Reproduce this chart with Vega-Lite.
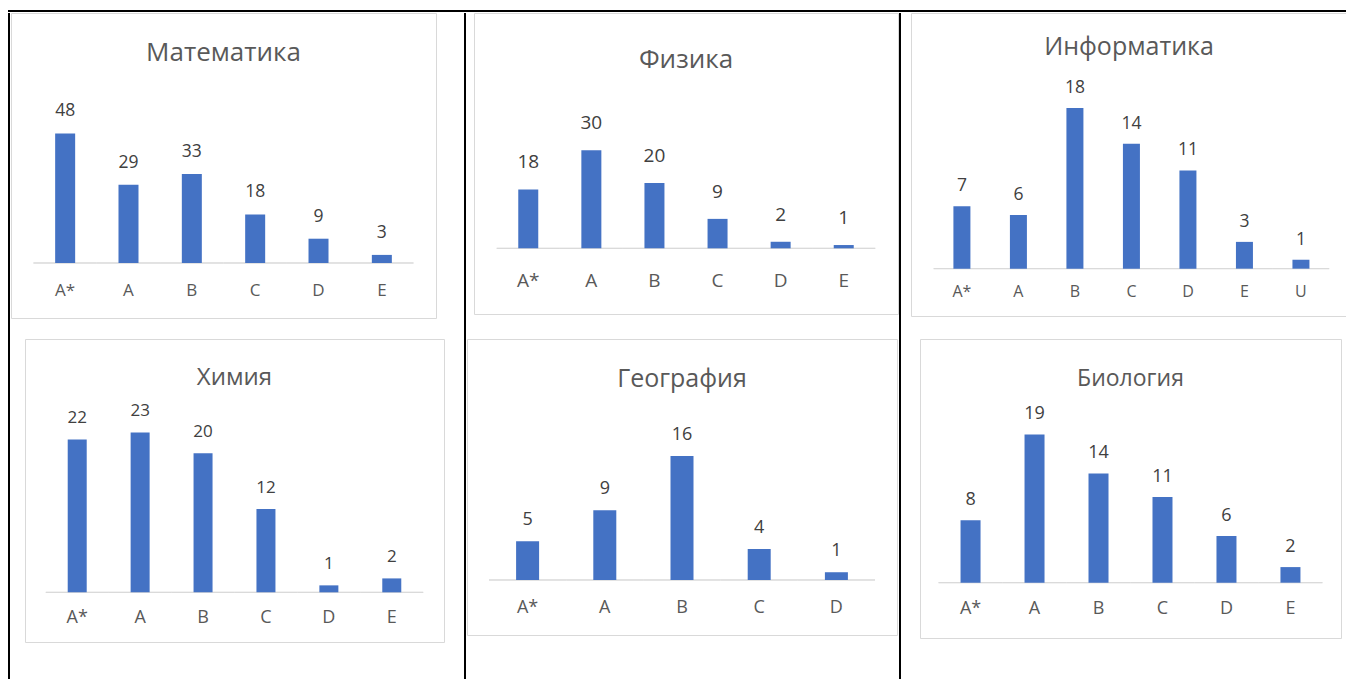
{
  "$schema": "https://vega.github.io/schema/vega-lite/v6.json",
  "padding": {"left": 8, "top": 10, "right": 0, "bottom": 0},
  "background": "white",
  "datasets": {
    "math": [{"grade": "A*", "count": 48}, {"grade": "A", "count": 29}, {"grade": "B", "count": 33}, {"grade": "C", "count": 18}, {"grade": "D", "count": 9}, {"grade": "E", "count": 3}],
    "phys": [{"grade": "A*", "count": 18}, {"grade": "A", "count": 30}, {"grade": "B", "count": 20}, {"grade": "C", "count": 9}, {"grade": "D", "count": 2}, {"grade": "E", "count": 1}],
    "inf": [{"grade": "A*", "count": 7}, {"grade": "A", "count": 6}, {"grade": "B", "count": 18}, {"grade": "C", "count": 14}, {"grade": "D", "count": 11}, {"grade": "E", "count": 3}, {"grade": "U", "count": 1}],
    "chem": [{"grade": "A*", "count": 22}, {"grade": "A", "count": 23}, {"grade": "B", "count": 20}, {"grade": "C", "count": 12}, {"grade": "D", "count": 1}, {"grade": "E", "count": 2}],
    "geo": [{"grade": "A*", "count": 5}, {"grade": "A", "count": 9}, {"grade": "B", "count": 16}, {"grade": "C", "count": 4}, {"grade": "D", "count": 1}],
    "bio": [{"grade": "A*", "count": 8}, {"grade": "A", "count": 19}, {"grade": "B", "count": 14}, {"grade": "C", "count": 11}, {"grade": "D", "count": 6}, {"grade": "E", "count": 2}]
  },
  "vconcat": [
    {"width": 1338, "height": 2, "view": {"fill": "#000000", "stroke": null}, "data": {"values": []}, "mark": "rule", "encoding": {}},
    {"hconcat": [
      {"width": 2, "height": 667, "view": {"fill": "#000000", "stroke": null}, "data": {"values": []}, "mark": "rule", "encoding": {}},
      {"spacing": 19, "vconcat": [
        {
          "width": 425, "height": 305,
          "view": {"stroke": "#d9d9d9", "strokeWidth": 1},
          "title": {"text": "Математика", "fontSize": 26, "offset": -53},
          "data": {"name": "math"},
          "encoding": {"x": {"field": "grade", "type": "nominal", "sort": null, "scale": {"paddingInner": 0, "paddingOuter": 0.355}, "axis": {"title": null, "offset": -55, "labelPadding": 32, "labelFontSize": 17}}},
          "layer": [
            {"mark": {"type": "bar", "fill": "transparent", "stroke": "#d9d9d9", "strokeWidth": 1}, "encoding": {"y": {"datum": 0, "type": "quantitative", "scale": {"domain": [-20.37, 92.6], "nice": false, "zero": false}, "axis": null}, "y2": {"datum": 0}}},
            {"mark": {"type": "bar", "size": 20, "color": "#4472c4"}, "encoding": {"y": {"field": "count", "type": "quantitative", "axis": null}}},
            {"mark": {"type": "text", "dy": -17, "baseline": "alphabetic", "fontSize": 17.5}, "encoding": {"y": {"field": "count", "type": "quantitative", "axis": null}, "text": {"field": "count", "type": "quantitative"}}}
          ]
        },
        {"hconcat": [
          {"width": 13, "height": 1, "data": {"values": []}, "mark": "rule", "encoding": {}},
          {
            "width": 419, "height": 303,
            "view": {"stroke": "#d9d9d9", "strokeWidth": 1},
            "title": {"text": "Химия", "fontSize": 24, "offset": -51},
            "data": {"name": "chem"},
            "encoding": {"x": {"field": "grade", "type": "nominal", "sort": null, "scale": {"paddingInner": 0, "paddingOuter": 0.33}, "axis": {"title": null, "offset": -49.7, "labelPadding": 30.5, "labelFontSize": 18}}},
            "layer": [
              {"mark": {"type": "bar", "fill": "transparent", "stroke": "#d9d9d9", "strokeWidth": 1}, "encoding": {"y": {"datum": 0, "type": "quantitative", "scale": {"domain": [-7.15, 36.45], "nice": false, "zero": false}, "axis": null}, "y2": {"datum": 0}}},
              {"mark": {"type": "bar", "size": 19, "color": "#4472c4"}, "encoding": {"y": {"field": "count", "type": "quantitative", "axis": null}}},
              {"mark": {"type": "text", "dy": -16, "baseline": "alphabetic", "fontSize": 17}, "encoding": {"y": {"field": "count", "type": "quantitative", "axis": null}, "text": {"field": "count", "type": "quantitative"}}}
            ]
          },
          {"width": 19, "height": 1, "data": {"values": []}, "mark": "rule", "encoding": {}}
        ]}
      ]},
      {"width": 2, "height": 667, "view": {"fill": "#000000", "stroke": null}, "data": {"values": []}, "mark": "rule", "encoding": {}},
      {"spacing": 23, "vconcat": [
        {"hconcat": [
          {"width": 6, "height": 1, "data": {"values": []}, "mark": "rule", "encoding": {}},
          {
            "width": 424, "height": 301,
            "view": {"stroke": "#d9d9d9", "strokeWidth": 1},
            "title": {"text": "Физика", "fontSize": 26, "offset": -60},
            "data": {"name": "phys"},
            "encoding": {"x": {"field": "grade", "type": "nominal", "sort": null, "scale": {"paddingInner": 0, "paddingOuter": 0.36}, "axis": {"title": null, "offset": -65.7, "labelPadding": 38.5, "labelFontSize": 19}}},
            "layer": [
              {"mark": {"type": "bar", "fill": "transparent", "stroke": "#d9d9d9", "strokeWidth": 1}, "encoding": {"y": {"datum": 0, "type": "quantitative", "scale": {"domain": [-20.09, 71.96], "nice": false, "zero": false}, "axis": null}, "y2": {"datum": 0}}},
              {"mark": {"type": "bar", "size": 20, "color": "#4472c4"}, "encoding": {"y": {"field": "count", "type": "quantitative", "axis": null}}},
              {"mark": {"type": "text", "dy": -21, "baseline": "alphabetic", "fontSize": 19}, "encoding": {"y": {"field": "count", "type": "quantitative", "axis": null}, "text": {"field": "count", "type": "quantitative"}}}
            ]
          }
        ]},
        {
          "width": 430, "height": 296,
          "view": {"stroke": "#d9d9d9", "strokeWidth": 1},
          "title": {"text": "География", "fontSize": 25, "offset": -53},
          "data": {"name": "geo"},
          "encoding": {"x": {"field": "grade", "type": "nominal", "sort": null, "scale": {"paddingInner": 0, "paddingOuter": 0.285}, "axis": {"title": null, "offset": -55, "labelPadding": 32, "labelFontSize": 18}}},
          "layer": [
            {"mark": {"type": "bar", "fill": "transparent", "stroke": "#d9d9d9", "strokeWidth": 1}, "encoding": {"y": {"datum": 0, "type": "quantitative", "scale": {"domain": [-7.1, 31.1], "nice": false, "zero": false}, "axis": null}, "y2": {"datum": 0}}},
            {"mark": {"type": "bar", "size": 23, "color": "#4472c4"}, "encoding": {"y": {"field": "count", "type": "quantitative", "axis": null}}},
            {"mark": {"type": "text", "dy": -16, "baseline": "alphabetic", "fontSize": 18}, "encoding": {"y": {"field": "count", "type": "quantitative", "axis": null}, "text": {"field": "count", "type": "quantitative"}}}
          ]
        }
      ]},
      {"width": 2, "height": 667, "view": {"fill": "#000000", "stroke": null}, "data": {"values": []}, "mark": "rule", "encoding": {}},
      {"spacing": 21, "vconcat": [
        {"hconcat": [
          {"width": 9, "height": 1, "data": {"values": []}, "mark": "rule", "encoding": {}},
          {
            "width": 436, "height": 303,
            "view": {"stroke": "#d9d9d9", "strokeWidth": 1},
            "title": {"text": "Информатика", "fontSize": 25, "offset": -47},
            "data": {"name": "inf"},
            "encoding": {"x": {"field": "grade", "type": "nominal", "sort": null, "scale": {"paddingInner": 0, "paddingOuter": 0.358, "align": 0.56}, "axis": {"title": null, "offset": -47.3, "labelPadding": 28, "labelFontSize": 16}}},
            "layer": [
              {"mark": {"type": "bar", "fill": "transparent", "stroke": "#d9d9d9", "strokeWidth": 1}, "encoding": {"y": {"datum": 0, "type": "quantitative", "scale": {"domain": [-5.3, 28.63], "nice": false, "zero": false}, "axis": null}, "y2": {"datum": 0}}},
              {"mark": {"type": "bar", "size": 17, "color": "#4472c4"}, "encoding": {"y": {"field": "count", "type": "quantitative", "axis": null}}},
              {"mark": {"type": "text", "dy": -15, "baseline": "alphabetic", "fontSize": 17.5}, "encoding": {"y": {"field": "count", "type": "quantitative", "axis": null}, "text": {"field": "count", "type": "quantitative"}}}
            ]
          }
        ]},
        {"hconcat": [
          {"width": 18, "height": 1, "data": {"values": []}, "mark": "rule", "encoding": {}},
          {
            "width": 421, "height": 299,
            "view": {"stroke": "#d9d9d9", "strokeWidth": 1},
            "title": {"text": "Биология", "fontSize": 23, "offset": -52},
            "data": {"name": "bio"},
            "encoding": {"x": {"field": "grade", "type": "nominal", "sort": null, "scale": {"paddingInner": 0, "paddingOuter": 0.29}, "axis": {"title": null, "offset": -55.3, "labelPadding": 31, "labelFontSize": 18}}},
            "layer": [
              {"mark": {"type": "bar", "fill": "transparent", "stroke": "#d9d9d9", "strokeWidth": 1}, "encoding": {"y": {"datum": 0, "type": "quantitative", "scale": {"domain": [-7.09, 31.24], "nice": false, "zero": false}, "axis": null}, "y2": {"datum": 0}}},
              {"mark": {"type": "bar", "size": 20, "color": "#4472c4"}, "encoding": {"y": {"field": "count", "type": "quantitative", "axis": null}}},
              {"mark": {"type": "text", "dy": -15, "baseline": "alphabetic", "fontSize": 18}, "encoding": {"y": {"field": "count", "type": "quantitative", "axis": null}, "text": {"field": "count", "type": "quantitative"}}}
            ]
          }
        ]}
      ]}
    ]}
  ],
  "config": {
    "font": "Open Sans",
    "view": {"stroke": null},
    "concat": {"spacing": 0},
    "title": {"color": "#595959", "fontWeight": "normal", "anchor": "middle", "baseline": "alphabetic", "font": "Open Sans"},
    "axisX": {"domain": false, "ticks": false, "tickSize": 0, "grid": false, "labelAngle": 0, "labelColor": "#595959", "labelBaseline": "alphabetic", "labelFont": "Open Sans"},
    "text": {"color": "#404040", "font": "Open Sans"}
  }
}
